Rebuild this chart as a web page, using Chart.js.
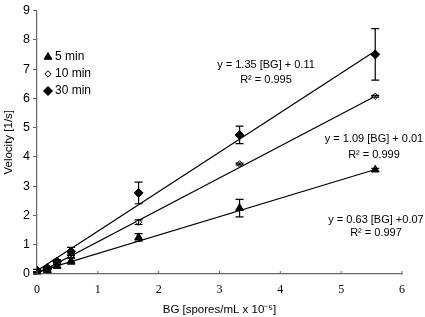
<!DOCTYPE html>
<html><head><meta charset="utf-8">
<script src="https://cdn.jsdelivr.net/npm/chart.js@4/dist/chart.umd.min.js"></script>
<style>html,body{margin:0;padding:0;background:#fff}#wrap{width:425px;height:317px}</style>
</head><body><div id="wrap"><canvas id="c" width="425" height="317"></canvas></div>
<script>
const xs = [0, 0.17, 0.33, 0.56, 1.67, 3.33, 5.56];
const v5 = [0.03, 0.12, 0.27, 0.44, 1.25, 2.25, 3.56];
const e5 = [0.03, 0.04, 0.05, 0.10, 0.13, 0.30, 0.05];
const v10 = [0.06, 0.16, 0.36, 0.62, 1.77, 3.76, 6.07];
const e10 = [0.02, 0.03, 0.04, 0.06, 0.08, 0.03, 0.03];
const v30 = [0.12, 0.20, 0.42, 0.77, 2.77, 4.75, 7.50];
const e30 = [0.04, 0.05, 0.07, 0.14, 0.37, 0.30, 0.88];
const trendX = [0, 5.56];
const trend5 = [0.07, 3.57];
const trend10 = [0.01, 6.07];
const trend30 = [0.11, 7.62];
const seriesNames = ['5 min', '10 min', '30 min'];
const eqLabels = ['y = 0.63 [BG] +0.07', 'y = 1.09 [BG] + 0.01', 'y = 1.35 [BG] + 0.11'];
const r2Labels = ['R² = 0.997', 'R² = 0.999', 'R² = 0.995'];
const xTicks = [0, 1, 2, 3, 4, 5, 6];

const pts = (a) => xs.map((x, i) => ({x, y: a[i]}));
const line = (a) => trendX.map((x, i) => ({x, y: a[i]}));
const errs = [e5, e10, e30];

const trendDs = (a) => ({type: 'scatter', data: line(a), showLine: true, borderColor: '#000', borderWidth: 1.2, pointRadius: 0, fill: false, order: 5});
const ptDs = (name, a, style, bg, r) => ({type: 'scatter', label: name, data: pts(a), pointStyle: style, pointRadius: r, pointBackgroundColor: bg, pointBorderColor: '#000', pointBorderWidth: 1, showLine: false, order: 1});

const errPlugin = {
  id: 'err',
  afterDatasetsDraw(chart) {
    const ctx = chart.ctx, xS = chart.scales.x, yS = chart.scales.y;
    ctx.save();
    ctx.strokeStyle = '#000'; ctx.lineWidth = 1.2;
    [v5, v10, v30].forEach((vals, s) => {
      vals.forEach((v, i) => {
        const px = xS.getPixelForValue(xs[i]);
        const top = yS.getPixelForValue(v + errs[s][i]);
        const bot = yS.getPixelForValue(v - errs[s][i]);
        ctx.beginPath();
        ctx.moveTo(px, top); ctx.lineTo(px, bot);
        ctx.moveTo(px - 4, top); ctx.lineTo(px + 4, top);
        ctx.moveTo(px - 4, bot); ctx.lineTo(px + 4, bot);
        ctx.stroke();
      });
    });
    // x ticks pointing up
    ctx.lineWidth = 1;
    ctx.strokeStyle = '#666';
    xTicks.forEach(t => {
      const px = xS.getPixelForValue(t);
      ctx.beginPath(); ctx.moveTo(px, yS.bottom); ctx.lineTo(px, yS.bottom - 3); ctx.stroke();
    });
    // annotations
    ctx.fillStyle = '#000';
    ctx.font = '11px "Liberation Sans", Arial, sans-serif';
    ctx.textBaseline = 'middle';
    ctx.textAlign = 'center';
    const eqPos = [[376, 220, 233], [374, 139, 155], [266, 65, 80]];
    eqPos.forEach((p, i) => {
      ctx.fillText(eqLabels[i], p[0], p[1]);
      ctx.fillText(r2Labels[i], p[0], p[2]);
    });
    // legend
    ctx.textAlign = 'left';
    ctx.font = '12px "Liberation Sans", Arial, sans-serif';
    const legY = [57, 74, 91];
    const ds = chart.data.datasets.filter(d => d.label);
    ds.forEach((d, i) => {
      const y = legY[i], x = 48;
      ctx.beginPath();
      ctx.fillStyle = d.pointBackgroundColor; ctx.strokeStyle = '#000'; ctx.lineWidth = 1;
      Chart.helpers.drawPoint(ctx, {pointStyle: d.pointStyle, radius: d.pointRadius, borderWidth: 1}, x, y);
      ctx.fillStyle = '#000';
      ctx.fillText(d.label, 55, y);
    });
    ctx.restore();
  }
};

new Chart(document.getElementById('c'), {
  data: {
    datasets: [
      trendDs(trend5), trendDs(trend10), trendDs(trend30),
      ptDs(seriesNames[0], v5, 'triangle', '#000', 4.5),
      ptDs(seriesNames[1], v10, 'rectRot', '#fff', 3.2),
      ptDs(seriesNames[2], v30, 'rectRot', '#000', 4.5)
    ]
  },
  options: {
    responsive: false,
    animation: false,
    layout: {padding: {top: 7, right: 23, left: 2, bottom: 0}},
    plugins: {legend: {display: false}, tooltip: {enabled: false}},
    scales: {
      x: {
        type: 'linear', min: 0, max: 6,
        afterBuildTicks: (s) => { s.ticks = xTicks.map(v => ({value: v})); },
        afterFit: (s) => { s.height = 43; },
        grid: {display: true, drawOnChartArea: false, drawTicks: false},
        border: {color: '#666', width: 1.2},
        ticks: {color: '#000', font: {family: '"Liberation Serif", "Times New Roman", serif', size: 12}, padding: 9, maxRotation: 0},
        title: {display: true, text: 'BG [spores/mL x 10⁻⁵]', color: '#000', font: {family: '"Liberation Sans", Arial, sans-serif', size: 11.5}, padding: {top: 0, bottom: 0}}
      },
      y: {
        type: 'linear', min: 0, max: 9,
        ticks: {stepSize: 1, color: '#000', font: {family: '"Liberation Sans", Arial, sans-serif', size: 12.5}, padding: 3},
        afterFit: (s) => { s.width = 35; },
        grid: {display: true, drawOnChartArea: false, drawTicks: true, tickLength: 4, color: '#666'},
        border: {color: '#666', width: 1.2},
        title: {display: true, text: 'Velocity [1/s]', color: '#000', font: {family: '"Liberation Sans", Arial, sans-serif', size: 11.5}, padding: {top: 0, bottom: 0}}
      }
    }
  },
  plugins: [errPlugin]
});
</script></body></html>
